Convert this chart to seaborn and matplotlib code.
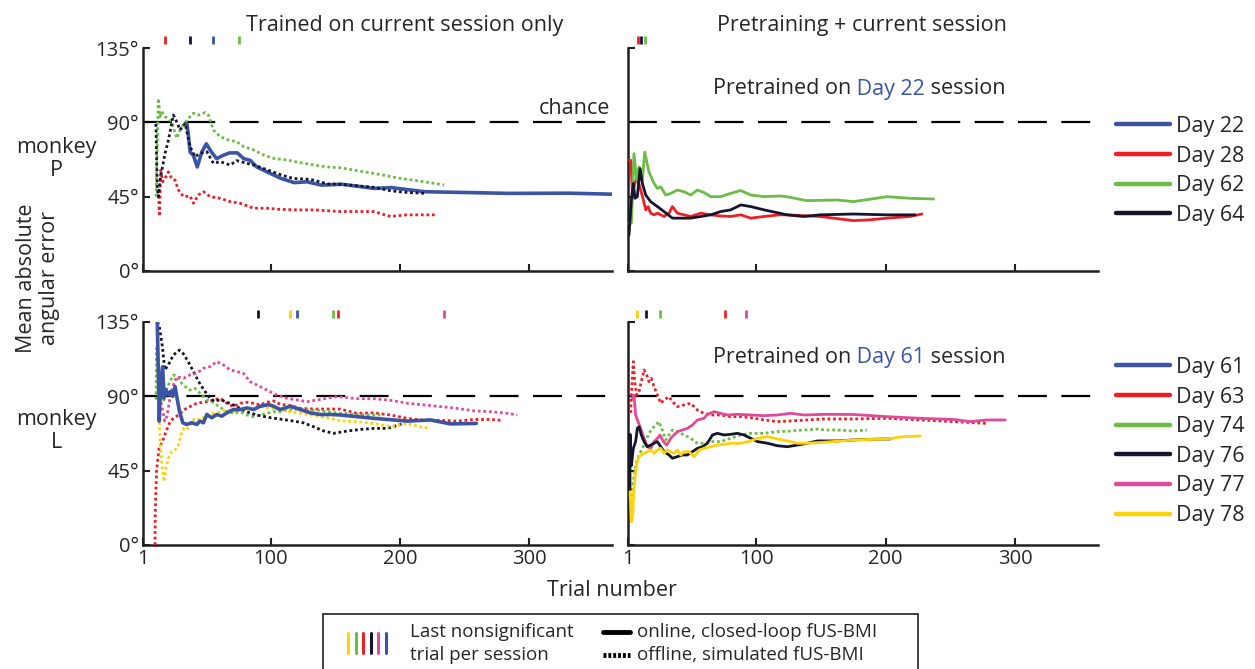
import matplotlib
matplotlib.use("Agg")
import matplotlib.pyplot as plt
from matplotlib.lines import Line2D
from matplotlib.patches import Rectangle
import pandas as pd
import seaborn as sns

# ==================== DATA ====================
DAY_COLORS = {
    "Day 22": "#3b55a4", "Day 28": "#ec1f26", "Day 62": "#6bbd45", "Day 64": "#15152d",
    "Day 61": "#3b55a4", "Day 63": "#ec1f26", "Day 74": "#6bbd45", "Day 76": "#15152d",
    "Day 77": "#e04a9b", "Day 78": "#fdd20a",
}
DAYS_P = ["Day 22", "Day 28", "Day 62", "Day 64"]
DAYS_L = ["Day 61", "Day 63", "Day 74", "Day 76", "Day 77", "Day 78"]
LEGEND_BARS = ["Day 78", "Day 74", "Day 63", "Day 76", "Day 77", "Day 61"]

# monkey P, trained on current session only
P22_CUR_T = [35, 36, 37.5, 40, 43, 46.5, 50, 54, 58, 63, 68, 74, 79, 84, 89, 97, 108, 118, 128, 139, 155, 180, 193, 219, 258, 284, 331, 364]
P22_CUR_V = [89, 83, 72, 70, 63, 72, 77, 72, 68, 70, 71.5, 71.5, 68, 67, 63, 60, 56, 53.5, 54, 52, 52.5, 50, 50.5, 48, 47.4, 47, 47.1, 46.5]
P28_CUR_T = [12.9, 13.7, 14.7, 16.3, 18.1, 20.6, 23.2, 25.8, 28.4, 32.3, 37.4, 40, 43.9, 47.8, 52.9, 60.7, 68.4, 76.2, 86.5, 96.8, 107.2, 120, 133.1, 153.7, 179.5, 192.5, 205, 227.4]
P28_CUR_V = [49, 33, 61, 54, 56, 60, 56, 55, 49, 45, 45.4, 41, 46, 48, 45, 44, 42, 41, 38, 38, 37.3, 37, 37, 36, 36, 33, 34, 34]
P62_CUR_T = [11.1, 12.9, 14.2, 15.5, 18.1, 20.6, 23.2, 27.1, 29.7, 32.3, 36.1, 40, 43.9, 49.1, 51.6, 55.5, 60.7, 67.1, 73.6, 78.8, 86.5, 94.3, 102, 112.4, 122.7, 133.1, 143.4, 153.7, 179.5, 200, 218, 234]
P62_CUR_V = [45, 104.5, 93.4, 96.5, 93.4, 92.4, 90.4, 80.3, 85.4, 88.4, 92.4, 95.5, 94.4, 95.9, 94.4, 85.4, 81.3, 79.3, 78.3, 75.3, 73.3, 70.2, 68.2, 67.2, 65.6, 64.2, 63, 62.5, 59.1, 56.1, 54.1, 52.1]
P64_CUR_T = [11, 11.5, 12, 13, 14.2, 18, 20.6, 24.5, 27, 29.7, 33.6, 37.4, 41.3, 45.2, 50.4, 55.5, 60.7, 68.4, 73.6, 81.4, 89, 98, 108.5, 117.5, 130.5, 144, 155, 180, 193, 206, 220]
P64_CUR_V = [89, 70, 50, 45, 55, 71, 79, 94.4, 90.4, 85.4, 89.4, 75.3, 69.2, 71.2, 72.2, 65.2, 66.2, 64.2, 66.8, 65.2, 63.6, 61, 58, 56, 55.5, 52.7, 52.5, 50.6, 48.5, 47.5, 47]

# monkey P, pretrained on Day 22
P28_PRE_T = [2, 3.1, 4.4, 7, 8.2, 10.8, 12.9, 14.7, 16.5, 18.5, 21.1, 23.7, 26.3, 28.8, 32.7, 35.3, 39.1, 44.3, 49.4, 57.2, 64.9, 72.6, 80.3, 88.1, 95.8, 106.1, 118, 123.6, 149.4, 175.2, 188.1, 201, 219, 228]
P28_PRE_V = [67, 67, 47, 55, 56, 49, 43, 37, 39, 35, 34, 35, 34, 33, 35, 39, 35, 34, 33, 35, 34, 33.3, 33, 34, 32, 33, 34, 34, 33, 30.5, 31, 32, 33, 34.5]
P62_PRE_T = [2, 3.6, 5.6, 7.7, 9.5, 12.1, 13.9, 17.2, 21.1, 23.7, 26.3, 30.1, 34, 39.1, 44.3, 49.4, 54.6, 59.7, 64.9, 72.6, 80.3, 88.1, 95.8, 106.1, 118, 123.6, 139, 162.3, 175.2, 201, 219, 237]
P62_PRE_V = [29, 29, 71, 55, 63, 55, 72, 60, 53, 50, 51, 46, 47, 49, 48, 46, 49, 47.5, 45, 45, 47, 48.7, 46, 45, 45.4, 45, 42.6, 43, 42, 45, 44, 43.6]
P64_PRE_T = [1, 1.8, 3.6, 5.1, 6.4, 8.2, 10.3, 12.1, 14.7, 18.5, 23.7, 28.8, 35.3, 41.7, 49.4, 57.2, 64.9, 72.6, 80.3, 88.1, 95.8, 106.1, 118, 123.6, 136.5, 149.4, 175.2, 201, 222.8]
P64_PRE_V = [22, 22, 43, 53, 44, 45, 62, 53, 46, 42, 39, 36, 32, 32, 32, 33, 34, 36, 37, 40, 39, 37, 35, 34, 33, 34, 34.5, 34, 34]

# monkey L, trained on current session only
L61_CUR_T = [12.1, 13.6, 14.7, 16.2, 17.3, 18.8, 20.6, 22.5, 24, 25.8, 27.1, 29.2, 31.8, 34.8, 38.7, 42.6, 45.2, 47.8, 50.4, 54.2, 58.1, 62, 65.9, 71, 76.2, 81.4, 86.5, 91.7, 98.2, 102, 107.2, 115, 122.7, 130.5, 138.2, 146, 153.7, 179.5, 205.4, 223.5, 239, 259]
L61_CUR_V = [135, 75, 99, 108, 89, 94, 91, 93, 90, 96, 90, 81, 74, 73, 74, 73, 75, 74, 79, 77, 79, 78, 80, 82, 82, 83, 82, 84, 85, 84, 82, 84, 82, 80, 79, 79, 78.7, 76.7, 75, 75.7, 73.3, 73.6]
L63_CUR_T = [10.3, 10.5, 11.5, 13.4, 16, 18.8, 22, 24.5, 28.5, 32.3, 37.4, 42.6, 47.8, 52.9, 60.7, 65.9, 71, 76.2, 81.4, 86.5, 91.7, 96.8, 102, 107.2, 115, 122.7, 133, 143, 153.7, 166.6, 179.5, 192.5, 205.4, 218.3, 231.2, 244.2, 257.1, 270, 277.7]
L63_CUR_V = [0, 20, 45, 58.5, 62.6, 68.6, 74.7, 76.7, 78.7, 81.7, 83.8, 85.8, 86.4, 87.2, 88.8, 85.8, 83.8, 85.8, 86.4, 85.8, 84.8, 86.4, 87.2, 85.2, 84.4, 82.7, 82.3, 82.3, 82.3, 79.7, 80, 78.7, 76.7, 75.5, 75.5, 75, 76, 76, 75.5]
L74_CUR_T = [11, 11.6, 12.9, 14.7, 16.8, 19.4, 21.9, 24.5, 27.1, 29.7, 33.6, 37.4, 41.3, 45.2, 50.4, 54.2, 58.1, 62, 65.9, 71, 76.2, 81.4, 86.5, 91.7, 96.8, 102, 107.2, 112.4, 120.1, 127.9, 135.6, 143.4, 153.7, 170, 184.7]
L74_CUR_V = [88, 119, 98.9, 90.8, 86.8, 94.8, 98.9, 103, 101.9, 98.9, 95.9, 93.8, 94.8, 91.8, 87.8, 86.8, 84.8, 82.7, 80.7, 79.7, 80.7, 78.7, 77.7, 78.7, 79.7, 80.7, 80.7, 81.7, 82.3, 81.7, 81.7, 80.7, 79.7, 79, 78.7]
L76_CUR_T = [12, 13.5, 14.7, 16.2, 17.8, 20.6, 24.5, 29.2, 32, 36, 40, 44, 48, 52, 56, 61, 66, 71, 76, 81, 89, 100, 112, 125, 133, 141, 148.6, 159, 170, 180, 190, 203]
L76_CUR_V = [135, 133, 127, 119, 106, 109, 115, 118, 116, 111, 105, 99, 94, 89.8, 87, 88, 86.4, 84.8, 82.7, 80.7, 78.7, 77, 75.7, 74, 71.6, 69, 67.6, 69, 70, 70.6, 70.6, 73.6]
L77_CUR_T = [12, 13, 14.5, 17.8, 19.5, 21.9, 24.5, 27.1, 32.3, 37.4, 42.6, 47.8, 52.9, 58.1, 63.3, 68.4, 73.6, 78.8, 83.9, 89.1, 96.8, 104.6, 112.4, 120.1, 127.9, 135.6, 143.4, 151.1, 166.6, 179.5, 192.5, 205.4, 218.3, 231.2, 244.2, 257.1, 270, 283, 290.7]
L77_CUR_V = [130, 100, 88, 75, 78, 88.8, 96.9, 101.9, 100.9, 103, 103.9, 107, 108, 111, 109, 106, 105, 103.9, 98.9, 96.9, 93.8, 90.8, 88.8, 87.8, 86.8, 87.8, 88.8, 89.8, 88.6, 88.6, 87.6, 85.8, 84.8, 83.8, 82.7, 81.2, 80.7, 79.7, 78.7]
L78_CUR_T = [11.6, 12.9, 14.2, 15.5, 17.3, 18.8, 20.6, 23.2, 25.8, 28.4, 31, 33.6, 36.1, 38.7, 41.3, 45.2, 50.4, 55.5, 60.7, 65.9, 71, 76.2, 83.9, 91.7, 99.4, 107.2, 115, 122.7, 130.5, 138.2, 146, 153.7, 166.6, 179.5, 192.5, 205.4, 218.3, 223.5]
L78_CUR_V = [135, 90, 62.6, 50.4, 38.3, 46.4, 52.5, 56.5, 57.5, 60.5, 68.6, 71.6, 70.6, 74.7, 76.7, 75.7, 78.7, 79.7, 80.7, 81.7, 80.7, 81.7, 82.7, 83.8, 82.7, 81.7, 80.7, 79.7, 78.7, 77.7, 76.7, 75.1, 74.7, 73.6, 71.6, 73.6, 71, 71.2]

# monkey L, pretrained on Day 61
L63_PRE_T = [3.1, 3.6, 5.1, 6.2, 7.7, 9.5, 11.3, 13.4, 15.4, 17.2, 19, 21.1, 23.7, 26.3, 28.8, 32.7, 35.3, 39.1, 44.3, 49.4, 54.6, 59.7, 64.9, 72.6, 80.3, 88.1, 95.8, 106.1, 116.4, 126.7, 139.6, 152.5, 175.2, 201, 226.7, 252.5, 278.2]
L63_PRE_V = [80, 90.8, 111, 98.9, 90.8, 92.8, 98.9, 106, 103, 98.9, 100.9, 95.9, 90.8, 85.8, 87.8, 89.8, 86.8, 83.8, 84.8, 85.8, 81.7, 79.7, 78.7, 78.7, 77.7, 77.7, 77.1, 75.7, 74.7, 75.1, 75.7, 76.3, 76.3, 76.7, 75.7, 74.7, 73.6]
L74_PRE_T = [3.1, 5.1, 6.9, 9.5, 12.1, 14.6, 17.2, 19.8, 22.4, 24.9, 27.5, 30.1, 32.7, 35.3, 39.1, 44.3, 49.4, 54.6, 59.7, 64.9, 72.6, 80.3, 88.1, 95.8, 106.1, 116.4, 126.7, 137, 147.3, 152.5, 162.3, 175.2, 185.5]
L74_PRE_V = [26.2, 38.3, 48.4, 54.5, 58.5, 62.6, 67.6, 70.6, 72.6, 74.7, 69.6, 63.6, 66.6, 69.6, 68.6, 66.6, 64.6, 61.6, 61.6, 62.6, 62.6, 64.6, 66.6, 67.6, 67.6, 68.6, 69, 69.6, 70.2, 69.6, 69.6, 69, 69.6]
L76_PRE_T = [1, 2.5, 2.6, 3.6, 5.1, 6.9, 8.2, 9.5, 11.3, 13.4, 15.9, 18.5, 21.1, 23.7, 26.3, 28.8, 32.7, 35.3, 39.1, 43, 46.8, 50.7, 54.6, 58.4, 62.3, 66.2, 70, 75.2, 80.3, 85.5, 90.6, 95.8, 101, 108.7, 116.4, 124.1, 131.9, 139.6, 147.3, 152.5, 162.3, 175.2, 188.1, 203.5]
L76_PRE_V = [33, 33, 67, 48, 58.5, 62.6, 70.6, 71.6, 66.6, 62.6, 59.5, 60.5, 61.6, 62.6, 59.5, 56.5, 54.5, 52.5, 53.5, 54.5, 54.5, 56.5, 58.5, 59.5, 61.6, 66.6, 67.6, 66.6, 67, 67.6, 66.6, 64.6, 62.6, 61.6, 60.1, 59.5, 60.5, 61.6, 63, 63, 63, 63.6, 64, 64.2]
L77_PRE_T = [4.3, 5.6, 6.9, 8.7, 10.8, 13.4, 15.9, 18.5, 21.1, 23.7, 25.7, 28.3, 30.9, 34, 36.5, 39.1, 43, 46.8, 50.7, 54.6, 59.7, 62.3, 67.5, 72.6, 77.8, 85.5, 95.8, 106.1, 116.4, 126.7, 137, 152.5, 175.2, 201, 226.7, 252.5, 265.4, 278.3, 292.3]
L77_PRE_V = [88.8, 90.8, 78.7, 74.7, 70.6, 64.6, 59.5, 58.5, 62.6, 64.6, 66.6, 62.6, 60.5, 64.6, 66.6, 68.6, 69.6, 70.6, 72.6, 75.7, 76.7, 79.1, 80.7, 79.7, 78.7, 79.1, 78.7, 78.3, 78.7, 79.7, 78.7, 79.1, 79, 77.7, 76.7, 76, 74.7, 75.7, 75.7]
L78_PRE_T = [2.6, 3.6, 4.7, 5.6, 6.9, 8.2, 9.5, 11.3, 13.4, 15.9, 18.5, 21.1, 23.7, 26.3, 28.8, 31.4, 34, 36.5, 39.1, 41.7, 44.3, 48.1, 52, 55.9, 59.7, 64.9, 70, 75.2, 80.3, 88.1, 95.8, 101, 108.7, 116.4, 124.1, 131.9, 139.6, 152.5, 175.2, 201, 214, 226.7]
L78_PRE_V = [32.3, 14.1, 18.2, 34.3, 44.4, 50.4, 53.5, 54.5, 55.5, 56.5, 57.5, 55.5, 57.5, 58.5, 55.5, 57.5, 56.5, 55.5, 57.5, 54.5, 56.5, 56.5, 53.5, 57.5, 58.5, 59.5, 60.5, 61, 61.6, 61.6, 63, 64.6, 65.6, 64.2, 63, 61.6, 61.6, 62.2, 63.6, 64.2, 65.6, 66]

# last nonsignificant trial per session
SIG_P_CUR = {"Day 28": 18, "Day 64": 37, "Day 22": 55, "Day 62": 75}
SIG_P_PRE = {"Day 28": 9, "Day 64": 11, "Day 62": 14}
SIG_L_CUR = {"Day 76": 90, "Day 78": 115, "Day 61": 120, "Day 74": 148, "Day 63": 152, "Day 77": 234}
SIG_L_PRE = {"Day 78": 8, "Day 76": 15, "Day 74": 26, "Day 63": 76, "Day 77": 92}

SERIES = [
    ("P_cur", "Day 22", "online", P22_CUR_T, P22_CUR_V),
    ("P_cur", "Day 28", "offline", P28_CUR_T, P28_CUR_V),
    ("P_cur", "Day 62", "offline", P62_CUR_T, P62_CUR_V),
    ("P_cur", "Day 64", "offline", P64_CUR_T, P64_CUR_V),
    ("P_pre", "Day 28", "online", P28_PRE_T, P28_PRE_V),
    ("P_pre", "Day 62", "online", P62_PRE_T, P62_PRE_V),
    ("P_pre", "Day 64", "online", P64_PRE_T, P64_PRE_V),
    ("L_cur", "Day 63", "offline", L63_CUR_T, L63_CUR_V),
    ("L_cur", "Day 74", "offline", L74_CUR_T, L74_CUR_V),
    ("L_cur", "Day 76", "offline", L76_CUR_T, L76_CUR_V),
    ("L_cur", "Day 77", "offline", L77_CUR_T, L77_CUR_V),
    ("L_cur", "Day 78", "offline", L78_CUR_T, L78_CUR_V),
    ("L_cur", "Day 61", "online", L61_CUR_T, L61_CUR_V),
    ("L_pre", "Day 63", "offline", L63_PRE_T, L63_PRE_V),
    ("L_pre", "Day 74", "offline", L74_PRE_T, L74_PRE_V),
    ("L_pre", "Day 77", "online", L77_PRE_T, L77_PRE_V),
    ("L_pre", "Day 76", "online", L76_PRE_T, L76_PRE_V),
    ("L_pre", "Day 78", "online", L78_PRE_T, L78_PRE_V),
]

# ==================== FIGURE ====================
W, H = 1255, 669
FS = 15.5        # titles, labels, legend
FS_TICK = 14.5
FS_BOX = 13.5
DOT = (0, (1, 1))

sns.set_theme(style="white")
plt.rcParams["font.family"] = ["Open Sans", "DejaVu Sans"]

fig = plt.figure(figsize=(W / 100, H / 100), dpi=100)


def px_axes(x0, y0, x1, y1):
    return fig.add_axes([x0 / W, 1 - y1 / H, (x1 - x0) / W, (y1 - y0) / H])


def fx(x):
    return x / W


def fy(y):
    return 1 - y / H


axes = {
    "P_cur": px_axes(143, 48, 612, 271),
    "P_pre": px_axes(628, 48, 1098, 271),
    "L_cur": px_axes(143, 322, 612, 545),
    "L_pre": px_axes(628, 322, 1098, 545),
}

for name, ax in axes.items():
    ax.set_xlim(1, 364)
    ax.set_ylim(0, 135)
    ax.axhline(90, color="black", lw=1.6, dashes=(13, 6.5), zorder=1)
    sns.despine(ax=ax)
    for side in ("left", "bottom"):
        ax.spines[side].set_linewidth(1.8)
        ax.spines[side].set_color("#231f20")
    ax.set_xticks([1, 100, 200, 300])
    ax.set_yticks([0, 45, 90, 135])
    ax.set_yticklabels(["0°", "45°", "90°", "135°"])
    ax.tick_params(direction="in", length=5, width=1.5, color="#231f20",
                   labelsize=FS_TICK, pad=3, bottom=True, left=True)
    if name.startswith("P"):
        ax.tick_params(labelbottom=False)
    if name.endswith("pre"):
        ax.tick_params(labelleft=False)
    ax.set_xlabel("")
    ax.set_ylabel("")

for panel, day, mode, t, v in SERIES:
    ax = axes[panel]
    lw = 2.0
    if mode == "online" and panel.endswith("cur"):
        lw = 2.6
    sns.lineplot(x=t, y=v, ax=ax, color=DAY_COLORS[day], lw=lw, estimator=None,
                 sort=False, legend=False,
                 linestyle="-" if mode == "online" else DOT, zorder=3)

# last nonsignificant trial markers above each panel
for panel, marks in [("P_cur", SIG_P_CUR), ("P_pre", SIG_P_PRE),
                     ("L_cur", SIG_L_CUR), ("L_pre", SIG_L_PRE)]:
    ax = axes[panel]
    for day, trial in marks.items():
        ax.vlines(trial, 1.02, 1.055, color=DAY_COLORS[day], lw=2,
                  transform=ax.get_xaxis_transform(), clip_on=False)

# ==================== TEXT ====================
fig.text(fx(405), fy(25), "Trained on current session only", ha="center", va="center", fontsize=FS)
fig.text(fx(862), fy(25), "Pretraining + current session", ha="center", va="center", fontsize=FS)
fig.text(fx(610), fy(108), "chance", ha="right", va="center", fontsize=FS)
fig.text(fx(56), fy(159), "monkey\nP", ha="center", va="center", fontsize=FS, linespacing=1.15)
fig.text(fx(56), fy(431), "monkey\nL", ha="center", va="center", fontsize=FS, linespacing=1.15)
fig.text(fx(38), fy(278), "Mean absolute\nangular error", ha="center", va="center",
         rotation=90, fontsize=FS, linespacing=1.1)
fig.text(fx(612), fy(590), "Trial number", ha="center", va="center", fontsize=FS)


def pretrained_label(x, y, day):
    first = fig.text(fx(x), fy(y), "Pretrained on", ha="left", va="center", fontsize=FS)
    mid = fig.text(0, 0, " " + day, fontsize=FS, color=DAY_COLORS[day], va="center")
    last = fig.text(0, 0, " session", fontsize=FS, va="center")
    fig.canvas.draw()
    r = fig.canvas.get_renderer()
    bb = first.get_window_extent(r)
    mid.set_position((bb.x1 / fig.bbox.width, fy(y)))
    bb2 = mid.get_window_extent(r)
    last.set_position((bb2.x1 / fig.bbox.width, fy(y)))


pretrained_label(713, 89, "Day 22")
pretrained_label(713, 358, "Day 61")

# day legends on the right
for days, top in [(DAYS_P, 116), (DAYS_L, 357)]:
    handles = [Line2D([0], [0], color=DAY_COLORS[d], lw=3.2) for d in days]
    fig.legend(handles, days, loc="upper left", bbox_to_anchor=(fx(1116), fy(top)),
               frameon=False, fontsize=FS, handlelength=2.5, handletextpad=0.3,
               labelspacing=0.4, borderpad=0, borderaxespad=0)

# bottom legend box
fig.patches.append(Rectangle((fx(323), fy(680)), fx(918 - 323), (680 - 614) / H,
                             transform=fig.transFigure, fill=False, lw=1.2,
                             edgecolor="#231f20", clip_on=False))
for i, d in enumerate(LEGEND_BARS):
    xb = 348 + i * 7.5
    fig.add_artist(Line2D([fx(xb), fx(xb)], [fy(653), fy(633)], color=DAY_COLORS[d], lw=2.2))
fig.text(fx(410), fy(632), "Last nonsignificant", ha="left", va="center", fontsize=FS_BOX)
fig.text(fx(410), fy(655), "trial per session", ha="left", va="center", fontsize=FS_BOX)
fig.add_artist(Line2D([fx(603), fx(630)], [fy(632), fy(632)], color="black", lw=3.5))
fig.add_artist(Line2D([fx(603), fx(630)], [fy(655), fy(655)], color="black", lw=3.5,
                      linestyle=(0, (0.6, 0.4))))
fig.text(fx(637), fy(632), "online, closed-loop fUS-BMI", ha="left", va="center", fontsize=FS_BOX)
fig.text(fx(637), fy(655), "offline, simulated fUS-BMI", ha="left", va="center", fontsize=FS_BOX)

fig.savefig("out.png", dpi=100)
